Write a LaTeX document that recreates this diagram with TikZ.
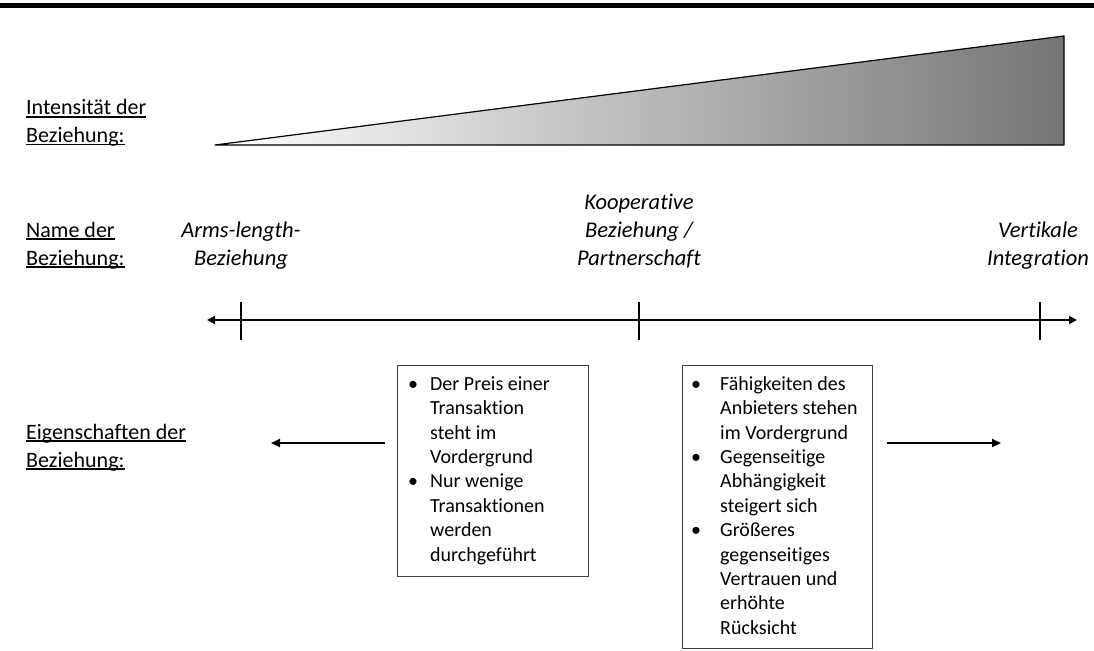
\documentclass[tikz,border=0pt]{standalone}
\usepackage{fontspec}
\setmainfont[Ligatures={TeX,NoCommon}]{Carlito}
\usetikzlibrary{arrows.meta}

\tikzset{
  rowcaption/.style={anchor=base west, inner sep=0pt, font=\fontsize{22}{28}\selectfont},
  relname/.style={anchor=base, inner sep=0pt, font=\fontsize{22.5}{28}\selectfont\itshape},
  infobox/.style={draw=black!75, line width=0.9pt, anchor=north west, inner sep=0pt},
  infotext/.style={anchor=north west, inner sep=0pt, font=\fontsize{20}{24.4}\selectfont},
  axis/.style={line width=2pt, {Triangle[length=8pt,width=8pt]}-{Triangle[length=8pt,width=8pt]}},
  tickmark/.style={line width=2pt},
  pointer/.style={line width=2pt, -{Triangle[length=9pt,width=8pt]}},
}
\newcommand{\bul}{\textbullet}
% underlined caption text
\newcommand{\ulabel}[1]{\setbox0\hbox{#1}\rlap{\rule[-2.5pt]{\wd0}{1.2pt}}\box0}

\begin{document}
\begin{tikzpicture}[x=1pt,y=-1pt]
\useasboundingbox (0,0) rectangle (1094,650);

% heading rule
\fill (0,3) rectangle (1094,8);

% intensity wedge
\coordinate (w1) at (215,145);
\coordinate (w2) at (1064,36);
\coordinate (w3) at (1064,145);
\shade[left color=white, right color=black!54] (w1) -- (w2) -- (w3) -- cycle;
\draw[line width=1.2pt, line join=round] (w1) -- (w2) -- (w3) -- cycle;

% row captions
\node[rowcaption] (l1) at (26,115) {\begin{tabular}[t]{@{}l@{}}\ulabel{Intensität der}\\ \ulabel{Beziehung:}\end{tabular}};
\node[rowcaption] (l2) at (26,237) {\begin{tabular}[t]{@{}l@{}}\ulabel{Name der}\\ \ulabel{Beziehung:}\end{tabular}};
\node[rowcaption] (l3) at (26,439) {\begin{tabular}[t]{@{}l@{}}\ulabel{Eigenschaften der}\\ \ulabel{Beziehung:}\end{tabular}};

% relationship names
\node[relname] (n1) at (241,237) {\begin{tabular}[t]{@{}c@{}}Arms-length-\\ Beziehung\end{tabular}};
\node[relname] (n2) at (639,209) {\begin{tabular}[t]{@{}c@{}}Kooperative\\ Beziehung /\\ Partnerschaft\end{tabular}};
\node[relname] (n3) at (1038,237) {\begin{tabular}[t]{@{}c@{}}Vertikale\\ Integration\end{tabular}};

% scale axis with ticks
\coordinate (aL) at (207,320);
\coordinate (aR) at (1077,320);
\draw[axis] (aL) -- (aR);
\coordinate (t1a) at (241,302); \coordinate (t1b) at (241,340);
\coordinate (t2a) at (639,302); \coordinate (t2b) at (639,340);
\coordinate (t3a) at (1040,302); \coordinate (t3b) at (1040,340);
\draw[tickmark] (t1a) -- (t1b);
\draw[tickmark] (t2a) -- (t2b);
\draw[tickmark] (t3a) -- (t3b);

% characteristic boxes
\node[infobox, minimum width=191pt, minimum height=211pt] (b1) at (397,365) {};
\node[infotext] (b1t) at ([xshift=11pt,yshift=-8pt]b1.north west) {%
\begin{tabular}{@{}p{22pt}@{}l@{}}
\bul & Der Preis einer\\
     & Transaktion\\
     & steht im\\
     & Vordergrund\\
\bul & Nur wenige\\
     & Transaktionen\\
     & werden\\
     & durchgeführt
\end{tabular}};
\node[infobox, minimum width=190pt, minimum height=283pt] (b2) at (682,365) {};
\node[infotext] (b2t) at ([xshift=9pt,yshift=-8pt]b2.north west) {%
\begin{tabular}{@{}p{29pt}@{}l@{}}
\bul & Fähigkeiten des\\
     & Anbieters stehen\\
     & im Vordergrund\\
\bul & Gegenseitige\\
     & Abhängigkeit\\
     & steigert sich\\
\bul & Größeres\\
     & gegenseitiges\\
     & Vertrauen und\\
     & erhöhte\\
     & Rücksicht
\end{tabular}};

% direction arrows
\coordinate (p1s) at (385,443);
\coordinate (p1e) at (271,443);
\coordinate (p2s) at (887,443);
\coordinate (p2e) at (1001,443);
\draw[pointer] (p1s) -- (p1e);
\draw[pointer] (p2s) -- (p2e);
\end{tikzpicture}
\end{document}
